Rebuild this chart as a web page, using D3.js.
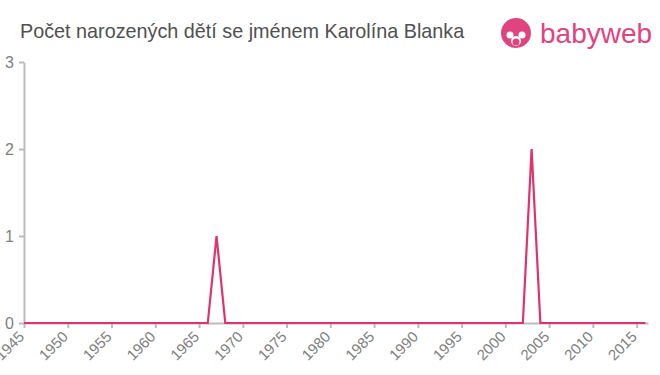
<!DOCTYPE html>
<html>
<head>
<meta charset="utf-8">
<script src="https://cdn.jsdelivr.net/npm/d3@7"></script>
<style>
  body { margin: 0; background: #fff; }
  text { font-family: "Liberation Sans", Arial, sans-serif; }
</style>
</head>
<body>
<svg id="chart" width="660" height="375"></svg>
<script>
const title = "Počet narozených dětí se jménem Karolína Blanka";
const years = d3.range(1945, 2017);
const peakYears = [1967, 2003];
const peakValues = [1, 2];
const xTicks = d3.range(1945, 2016, 5);
const yTicks = [0, 1, 2, 3];

const counts = years.map(y => {
  const i = peakYears.indexOf(y);
  return { year: y, value: i >= 0 ? peakValues[i] : 0 };
});

const margin = {top: 62, right: 12, bottom: 52, left: 24};
const svg = d3.select("#chart");
const width = +svg.attr("width") - margin.left - margin.right;
const height = +svg.attr("height") - margin.top - margin.bottom;
const g = svg.append("g").attr("transform", `translate(${margin.left}, ${margin.top})`);

const x = d3.scaleLinear().domain([1945, 2016.3]).range([0, width]);
const y = d3.scaleLinear().domain([0, 3]).range([height, 0]);

// title
svg.append("text")
  .attr("x", 20).attr("y", 38)
  .attr("font-size", 19.8)
  .attr("fill", "#505050")
  .text(title);

// logo
const logo = svg.append("g").attr("transform", "translate(516, 33)");
logo.append("circle").attr("r", 15).attr("fill", "#e0447f");
logo.append("circle").attr("cx", -6).attr("cy", 2).attr("r", 3.5).attr("fill", "#fff");
logo.append("circle").attr("cx", 6).attr("cy", 2).attr("r", 3.5).attr("fill", "#fff");
logo.append("circle").attr("cx", 0).attr("cy", 8).attr("r", 5).attr("fill", "#fff");
logo.append("circle").attr("cx", 0).attr("cy", 9).attr("r", 3.5).attr("fill", "#e0447f");
svg.append("text")
  .attr("x", 540).attr("y", 43)
  .attr("font-size", 28)
  .attr("fill", "#e0447f")
  .text("babyweb");

// x axis
const xAxis = g.append("g")
  .attr("transform", `translate(0, ${height})`)
  .call(d3.axisBottom(x).tickValues(xTicks).tickFormat(d3.format("d")).tickSize(5).tickSizeOuter(0));
xAxis.select(".domain").attr("stroke", "#bbb").attr("stroke-width", 2);
xAxis.selectAll(".tick line").attr("stroke", "#bbb").attr("stroke-width", 2);
xAxis.selectAll(".tick text")
  .attr("font-size", 15)
  .attr("fill", "#808080")
  .attr("text-anchor", "end")
  .attr("x", 0)
  .attr("y", 0)
  .attr("dy", "0.35em")
  .attr("transform", "translate(-3, 11) rotate(-45)");

// y axis
const yAxis = g.append("g")
  .call(d3.axisLeft(y).tickValues(yTicks).tickFormat(d3.format("d")).tickSize(5).tickSizeOuter(0));
yAxis.select(".domain").attr("stroke", "#bbb").attr("stroke-width", 2);
yAxis.selectAll(".tick line").attr("stroke", "#bbb").attr("stroke-width", 2);
yAxis.selectAll(".tick text").attr("font-size", 16).attr("fill", "#808080").attr("x", -10);

// line
g.append("path")
  .datum(counts)
  .attr("fill", "none")
  .attr("stroke", "#e0336b")
  .attr("stroke-width", 2.2)
  .attr("d", d3.line().x(d => x(d.year)).y(d => y(d.value)));
</script>
</body>
</html>
